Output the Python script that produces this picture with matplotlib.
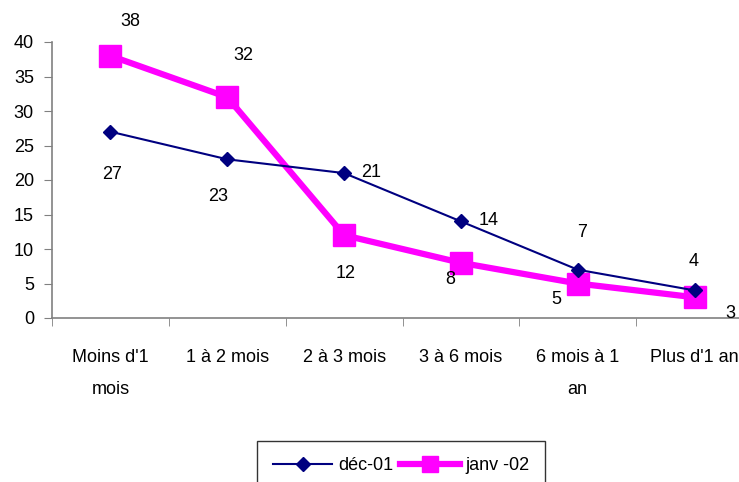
import matplotlib
matplotlib.use("Agg")
import matplotlib.pyplot as plt
from matplotlib import font_manager
from matplotlib.lines import Line2D
import numpy as np

categories = ["Moins d'1\nmois", "1 à 2 mois", "2 à 3 mois", "3 à 6 mois", "6 mois à 1\nan", "Plus d'1 an"]
dec01 = [27, 23, 21, 14, 7, 4]
janv02 = [38, 32, 12, 8, 5, 3]
series_names = ["déc-01", "janv -02"]

names = {f.name for f in font_manager.fontManager.ttflist}
fam = "Liberation Sans Narrow" if "Liberation Sans Narrow" in names else "Liberation Sans"
plt.rcParams['font.family'] = [fam, 'DejaVu Sans']

W, H = 739, 482
fig = plt.figure(figsize=(W/100, H/100), dpi=100)
left, right, bottom, top = 52, 753, 318, 42
ax = fig.add_axes([left/W, 1-bottom/H, (right-left)/W, (bottom-top)/H])

x = np.arange(len(categories))
ax.plot(x, dec01, color='#000080', lw=1.5, marker='D', ms=7, zorder=3)
ax.plot(x, janv02, color='#FF00FF', lw=4.5, marker='s', ms=16, zorder=2)

ax.set_xlim(-0.5, len(categories)-0.5)
ax.set_ylim(0, 40)
ax.set_yticks(range(0, 41, 5))
ax.set_xticks(x)
ax.set_xticklabels(categories, fontsize=13, linespacing=2.2)
ax.set_xticks(np.arange(-0.5, len(categories), 1), minor=True)
ax.tick_params(axis='x', which='major', length=0, pad=22)
ax.tick_params(axis='x', which='minor', length=6, direction='out', color='#808080')
ax.tick_params(axis='y', labelsize=13, length=6, color='#808080', direction='out', pad=7)
for s in ['top', 'right']:
    ax.spines[s].set_visible(False)
for s in ['left', 'bottom']:
    ax.spines[s].set_color('#808080')
    ax.spines[s].set_linewidth(1.2)

dec_off = [(2, -43), (-9, -37), (27, 1), (28, 1), (4, 37), (-1, 29)]
jan_off = [(20, 34), (16, 42), (2, -38), (-11, -17), (-21, -16), (36, -16)]
for i, v in enumerate(dec01):
    ax.annotate(str(v), (x[i], v), xytext=dec_off[i], textcoords='offset pixels',
                ha='center', va='center', fontsize=13)
for i, v in enumerate(janv02):
    ax.annotate(str(v), (x[i], v), xytext=jan_off[i], textcoords='offset pixels',
                ha='center', va='center', fontsize=13, annotation_clip=False)

handles = [Line2D([], [], color='#000080', lw=1.5, marker='D', ms=7),
           Line2D([], [], color='#FF00FF', lw=4.5, marker='s', ms=11)]
leg = fig.legend(handles, series_names, loc='upper center', bbox_to_anchor=(401/W, 1-441/H), ncol=2,
                 frameon=True, fancybox=False, edgecolor='black', fontsize=13,
                 handlelength=3.3, columnspacing=0.4, handletextpad=0.3,
                 borderpad=0.9, borderaxespad=0)
leg.get_frame().set_linewidth(1.0)

fig.savefig("out.png", dpi=100)
